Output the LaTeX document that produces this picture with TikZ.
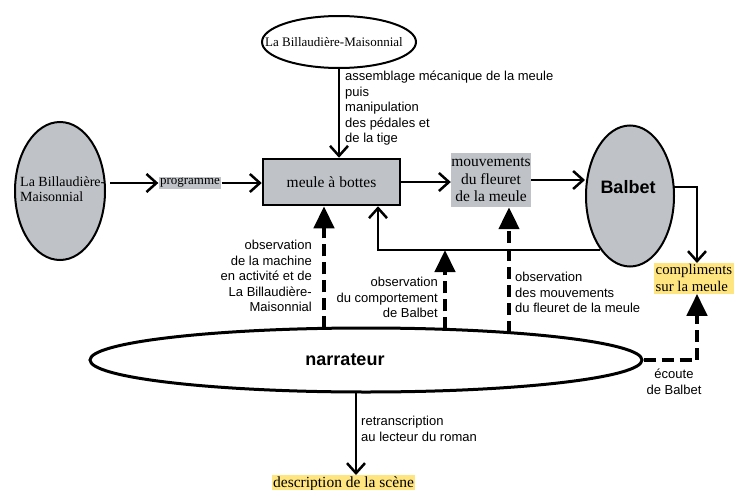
\documentclass[tikz,border=0pt]{standalone}
\usepackage{fontspec}
\setmainfont{Liberation Serif}
\setsansfont{Liberation Sans}
\usetikzlibrary{shapes.geometric,arrows.meta}
\definecolor{boxgray}{RGB}{191,195,199}
\definecolor{hiyellow}{RGB}{255,229,128}
\tikzstyle{flow}=[line width=2.5pt,-{Straight Barb[length=10pt,width=18pt]}]
\tikzstyle{obs}=[line width=4.5pt,dash pattern=on 12pt off 6pt,-{Triangle[length=22pt,width=20pt]}]
\tikzstyle{actor}=[ellipse,draw,line width=2pt,inner sep=0pt]
\tikzstyle{lbl}=[font=\sffamily\fontsize{13}{15.5}\selectfont,inner sep=0pt]
\tikzstyle{serif}=[font=\fontsize{15.5}{17.5}\selectfont]

\begin{document}
\begin{tikzpicture}[x=1pt,y=-1pt]
\useasboundingbox (0,0) rectangle (734,490);

% actors
\node[actor, fill=white, minimum width=154pt, minimum height=52pt] (top) at (339,42) {};
\node[font=\fontsize{13}{15}\selectfont, inner sep=0pt] (toplbl) at (334,42) {La Billaudière-Maisonnial};
\node[actor, fill=boxgray, minimum width=90pt, minimum height=138pt] (left) at (60,191) {};
\node[anchor=west, align=left, inner sep=0pt,
  font=\fontsize{14}{15.5}\selectfont] (leftlbl) at (20,189) {La Billaudière-\\Maisonnial};
\node[actor, fill=boxgray, minimum width=88pt, minimum height=141pt] (balbet) at (630,196) {};
\node[font=\sffamily\bfseries\fontsize{18}{20}\selectfont, inner sep=0pt] (balbetlbl) at (628,187) {Balbet};
\node[actor, fill=white, line width=3pt, minimum width=552pt, minimum height=64pt] (narr) at (366,360) {};
\node[font=\sffamily\bfseries\fontsize{18}{20}\selectfont, inner sep=0pt] (narrlbl) at (345,360) {narrateur};

% objects
\node[draw, line width=2.5pt, fill=boxgray, minimum width=137pt, minimum height=46pt,
  serif] (box) at (331.5,182) {meule à bottes};
\node[fill=boxgray, minimum width=80pt, minimum height=54pt, inner sep=0pt, align=center,
  serif] (mouv) at (491,180) {mouvements\\du fleuret\\de la meule};
\node[fill=boxgray, inner sep=1.5pt, font=\fontsize{13}{15}\selectfont] (prog) at (190,183) {programme};
\node[fill=hiyellow, anchor=north west, inner sep=1.5pt, align=left,
  font=\fontsize{14.8}{17}\selectfont] (compl) at (654,263) {compliments\\sur la meule};
\node[fill=hiyellow, anchor=north, inner sep=1.5pt, serif] (descr) at (343.5,475) {description de la scène};

% labels
\node[lbl, anchor=north west, align=left] (assem) at (345,71)
  {assemblage mécanique de la meule\\puis\\manipulation\\des pédales et\\de la tige};
\node[lbl, anchor=north east, align=right] (obsm) at (312,240)
  {observation\\de la machine\\en activité et de\\La Billaudière-\\Maisonnial};
\node[lbl, anchor=north east, align=right] (obsb) at (438,277)
  {observation\\du comportement\\de Balbet};
\node[lbl, anchor=north west, align=left] (obsf) at (515,272)
  {observation\\des mouvements\\du fleuret de la meule};
\node[lbl, align=center] (ecoute) at (674,382) {écoute\\de Balbet};
\node[lbl, anchor=north west, align=left] (retr) at (361,416)
  {retranscription\\au lecteur du roman};

% free ends
\coordinate (lo) at (110,183);
\coordinate (fb) at (600,250);
\coordinate (fbx) at (378,0);
\coordinate (br) at (673,187);
\coordinate (cx) at (697,0);
\coordinate (n1) at (324,328.4);
\coordinate (n2) at (445,329.3);
\coordinate (n3) at (509,332.6);
\coordinate (nb) at (356,392);

% solid flows
\draw[flow] (top.south) -- (top |- box.north);
\draw[flow] (lo) -- (prog.west);
\draw[flow] (prog.east) -- (box.west |- prog.east);
\draw[flow] (box.east) -- (box.east -| mouv.west);
\draw[flow] (mouv.east) -- (balbet.west |- mouv.east);
\draw[flow] (fb) -| (box.south -| fbx);
\draw[flow] (br) -| (compl.north -| cx);
\draw[flow] (nb) -- (descr.north -| nb);

% observations
\draw[obs] (n1) -- (box.south -| n1);
\draw[obs] (n2) -- (fb -| n2);
\draw[obs] (n3) -- (mouv.south -| n3);
\draw[obs] (narr.east) -| (compl.south -| cx);

\end{tikzpicture}
\end{document}
